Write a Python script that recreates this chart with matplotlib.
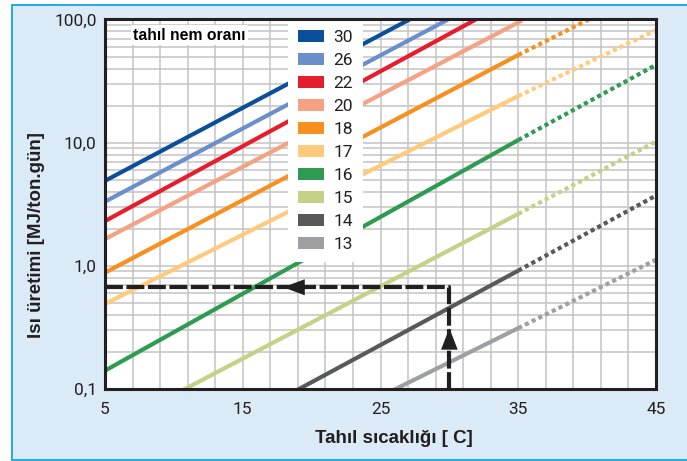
import matplotlib
matplotlib.use("Agg")
import matplotlib.pyplot as plt
from matplotlib.patches import Patch, Rectangle
from matplotlib.ticker import FixedLocator, FixedFormatter, NullFormatter, LogLocator
import numpy as np

# ---------------- data ----------------
moisture = ['30', '26', '22', '20', '18', '17', '16', '15', '14', '13']
temp_solid = [5, 35]
temp_dotted = [35, 45]
heat_at_5 = [4.9, 3.32, 2.31, 1.65, 0.88, 0.49, 0.141, 0.0456, 0.0141, 0.00675]
heat_at_35 = [294, 201, 154, 94.6, 51.5, 23.9, 10.5, 2.64, 0.914, 0.312]
heat_at_45 = [1150, 789, 625, 365, 189, 82, 42.8, 10.2, 3.72, 1.12]

xticks = [5, 15, 25, 35, 45]
yticks = [0.1, 1, 10, 100]
ytick_labels = ['0,1', '1,0', '10,0', '100,0']

# worked example (arrow path)
example_temp = 30
example_heat = 0.67
up_arrow_tip = 0.312
left_arrow_tip = 17.94

colors = ['#0b4f9b', '#6a8fcb', '#e51e2e', '#f5a183', '#f7901e',
          '#ffca7c', '#2f9b52', '#c4d187', '#58595b', '#9d9fa2']

# ---------------- figure ----------------
fig = plt.figure(figsize=(6.87, 4.61), dpi=100, facecolor='white')
bg = Rectangle((11.7 / 687, 1 - 460 / 461), 1.0, (460 - 4.7) / 461,
               transform=fig.transFigure, facecolor='#dbeaf7',
               edgecolor='#14a5e1', lw=1.3, zorder=-10)
fig.patches.append(bg)

ax = fig.add_axes([105 / 687, 1 - 389 / 461, (656 - 105) / 687, (389 - 19.5) / 461])
ax.set_zorder(1)
ax.set_facecolor('white')
ax.set_yscale('log')
ax.set_xlim(5, 45)
ax.set_ylim(0.1, 100)

for i, lab in enumerate(moisture):
    ax.plot(temp_solid, [heat_at_5[i], heat_at_35[i]],
            color=colors[i], lw=3, solid_capstyle='butt', zorder=3)
    ax.plot(temp_dotted, [heat_at_35[i], heat_at_45[i]], color=colors[i], lw=3,
            dashes=(1, 0.8), dash_capstyle='butt', zorder=3)

# example path
ax.plot([xticks[0], example_temp, example_temp], [example_heat, example_heat, yticks[0]],
        color='#231f20', lw=3, dashes=(4.3, 0.85), zorder=5)
ax.annotate('', xy=(example_temp, up_arrow_tip), xytext=(example_temp, 0.12),
            arrowprops=dict(arrowstyle='-|>,head_length=15.5,head_width=6', mutation_scale=1,
                            lw=0, fc='#231f20', ec='none', shrinkA=0, shrinkB=0), zorder=6)
ax.annotate('', xy=(left_arrow_tip, example_heat), xytext=(example_temp, example_heat),
            arrowprops=dict(arrowstyle='-|>,head_length=15.5,head_width=5.8', mutation_scale=1,
                            lw=0, fc='#231f20', ec='none', shrinkA=0, shrinkB=0), zorder=6)

# grid
ax.xaxis.set_major_locator(FixedLocator(xticks))
ax.xaxis.set_minor_locator(FixedLocator(list(range(5, 46, 2))))
ax.yaxis.set_major_locator(FixedLocator(yticks))
ax.yaxis.set_major_formatter(FixedFormatter(ytick_labels))
ax.yaxis.set_minor_locator(LogLocator(base=10, subs=np.arange(2, 10)))
ax.yaxis.set_minor_formatter(NullFormatter())
ax.grid(True, which='both', color='#c4c4c4', lw=1.1, zorder=1)
ax.set_axisbelow(True)
ax.tick_params(which='both', length=0)
ax.tick_params(axis='x', pad=9)
ax.tick_params(axis='y', pad=6)
for t in ax.get_xticklabels() + ax.get_yticklabels():
    t.set_fontfamily('Roboto')
    t.set_fontsize(12.4)
    t.set_color('#231f20')
for s in ax.spines.values():
    s.set_color('#231f20')
    s.set_linewidth(2.2)
    s.set_zorder(7)

ax.set_xlabel('Tahıl sıcaklığı [ C]', fontfamily='Liberation Sans', fontweight='bold',
              fontsize=13.5, color='#231f20')
ax.xaxis.set_label_coords((394 - 105) / 551, (389 - 438) / 369.5)
ax.xaxis.label.set_va('center')
ax.set_ylabel('Isı üretimi [MJ/ton.gün]', fontfamily='Liberation Sans', fontweight='bold',
              fontsize=13.5, color='#231f20')
ax.yaxis.set_label_coords((37 - 105) / 551, (389 - 235) / 369.5)
ax.yaxis.label.set_va('center')

ax.text((133 - 105) / 551, (389 - 35) / 369.5, 'tahıl nem oranı', transform=ax.transAxes,
        fontfamily='Liberation Sans', fontweight='bold', fontsize=11.3, color='black',
        ha='left', va='center', zorder=8,
        bbox=dict(facecolor='white', edgecolor='none', pad=1.5))

handles = [Patch(facecolor=c, edgecolor='none') for c in colors]
leg = ax.legend(handles, moisture, loc='upper left',
                bbox_to_anchor=((288 - 105) / 551, 1.0), borderaxespad=0,
                frameon=True, fancybox=False, framealpha=1, facecolor='white',
                edgecolor='none', handlelength=1.5, handleheight=0.7,
                handletextpad=0.5, labelspacing=0.45, borderpad=0.6,
                prop={'family': 'Roboto', 'size': 12.5})
leg.set_zorder(6)
for t in leg.get_texts():
    t.set_color('#231f20')

fig.savefig('out.png', dpi=100, facecolor='white')
